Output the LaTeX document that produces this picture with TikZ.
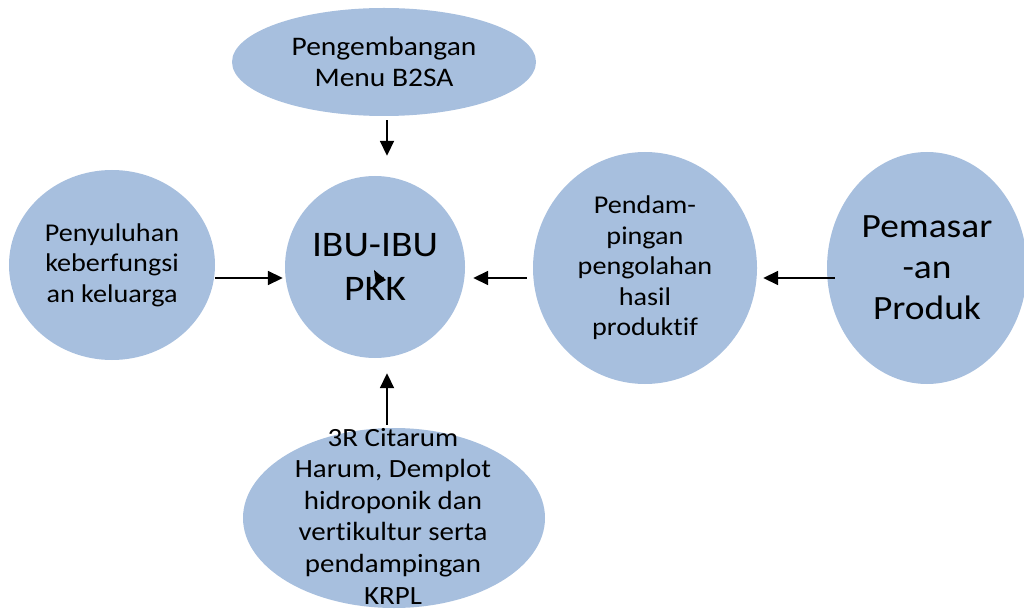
\documentclass[tikz,border=0pt]{standalone}
\usepackage{fontspec}
\setmainfont{Carlito}[FakeStretch=1.1,Ligatures=NoCommon]
\usepackage{xcolor}
\usetikzlibrary{shapes.geometric,arrows.meta}
\definecolor{bubblue}{RGB}{167,191,222}

\begin{document}
\begin{tikzpicture}[x=1pt,y=-1pt,
        bub/.style={ellipse,fill=bubblue,inner sep=0pt},
        txt/.style={align=center,font=\fontsize{25.6}{30.5}\selectfont},
        arr/.style={-{Triangle[width=14pt,length=15pt]},line width=1.8pt}]
        \useasboundingbox (0,0) rectangle (1024,609);
        \node[bub,minimum width=304pt,minimum height=108pt,
            label={[txt,font=\fontsize{26.8}{31}\selectfont]center:Pengembangan\\Menu B2SA}] (menu) at (384,62) {};
        \node[bub,minimum width=180pt,minimum height=182pt,
            label={[align=center,font=\fontsize{36}{44}\selectfont]center:IBU-IBU\\PKK}] (ibu) at (375,267) {};
        \node[bub,minimum width=206pt,minimum height=190pt,
            label={[txt]center:Penyuluhan\\keberfungsi\\an keluarga}] (penyul) at (112,265) {};
        \node[bub,minimum width=224pt,minimum height=232pt,
            label={[txt]center:Pendam-\\pingan\\pengolahan\\hasil\\produktif}] (pendam) at (645,268) {};
        \node[bub,minimum width=200pt,minimum height=232pt,
            label={[align=center,font=\fontsize{34}{41}\selectfont]center:Pemasar\\-an\\Produk}] (pemasar) at (927,268) {};
        \node[bub,minimum width=302pt,minimum height=180pt,
            label={[txt,font=\fontsize{26.3}{31.6}\selectfont,xshift=-1pt,yshift=2pt]center:3R Citarum\\Harum, Demplot\\hidroponik dan\\vertikultur serta\\pendampingan\\KRPL}] (krpl) at (394,518) {};
        \coordinate (row) at (0,278);
        \coordinate (col) at (387,0);
        \draw[arr,shorten >=2pt] (penyul.east |- row) -- (ibu.west |- row);
        \draw[arr,shorten <=6pt,shorten >=8pt] (pendam.west |- row) -- (ibu.east |- row);
        \draw[arr,shorten <=-8pt,shorten >=6pt] (pemasar.west |- row) -- (pendam.east |- row);
        \draw[arr,shorten <=4pt,shorten >=20pt] (menu.south -| col) -- (ibu.north -| col);
        \draw[arr,shorten <=3pt,shorten >=15pt] (krpl.north -| col) -- (ibu.south -| col);
        \fill (374,270) -- (386,280) -- (376,285) -- cycle;
\end{tikzpicture}
\end{document}
